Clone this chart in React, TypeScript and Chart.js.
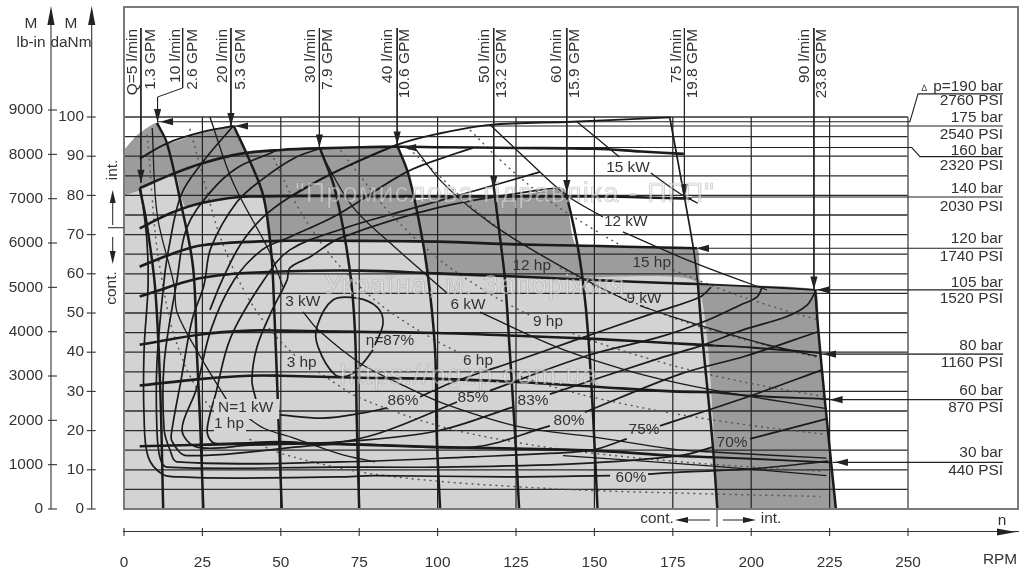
import React, { useEffect, useRef } from "react";
import { Chart, registerables } from "chart.js";

Chart.register(...registerables);

type P = number[];
type Seg = P[];

const rpmTicks = [0, 25, 50, 75, 100, 125, 150, 175, 200, 225, 250];
const daNmTicks = [0, 10, 20, 30, 40, 50, 60, 70, 80, 90, 100];
const lbInTicks = [0, 1000, 2000, 3000, 4000, 5000, 6000, 7000, 8000, 9000];
const gridTorque = [5, 10, 15, 20, 25, 30, 35, 40, 45, 50, 55, 60, 65, 70, 75, 80, 85, 90, 95, 100];
const gridRpm = [25, 50, 75, 100, 125, 150, 175, 200, 225];

const intermittentArea: Seg = [[0, 91.6], [4.2, 95.4], [10.5, 98.5], [13.7, 93.3], [25, 96.2], [35, 97.7], [38.8, 91], [48.8, 91.6], [62.5, 92], [87, 92.6], [90.6, 85.6], [92.8, 79], [100, 79.6], [125, 80], [140, 81.9], [141.2, 80.6], [144.3, 67.3], [182.7, 66.5], [183.7, 58], [188, 57.3], [220.4, 55.9], [221.4, 45.5], [223.5, 27.6], [227, 0]];
const continuousArea: Seg = [[0, 80], [5.3, 81.4], [16.5, 85.2], [18, 80.1], [19.7, 77.1], [36, 79.6], [43.6, 80.1], [45.2, 75.8], [46.5, 68.6], [94.5, 68.4], [97, 60], [145.4, 59], [182.7, 57.7], [189.4, 0]];

const flow5: Seg = [[5, 81.9], [7.2, 73], [9.9, 56.6], [11.5, 31.9], [12.5, 0]];
const flow10: Seg = [[10.5, 98.5], [13.7, 93.3], [17.9, 78.8], [22, 61.8], [23.2, 40.4], [24.2, 23.5], [25.3, 0]];
const flow20: Seg = [[35, 97.7], [40, 89], [44.5, 79.6], [47, 65], [48, 49], [49, 28.5], [50.3, 0]];
const flow30: Seg = [[62.5, 92], [67.3, 81.4], [72, 61], [73.7, 44.6], [74.2, 23.5], [75, 0]];
const flow40: Seg = [[87, 92.9], [90.6, 85.6], [94.4, 72], [97, 59], [99.2, 40.4], [99.7, 19], [100.8, 0]];
const flow50: Seg = [[117.7, 83.5], [120, 68.6], [121.5, 58.4], [123, 40.4], [124.7, 19], [126, 0]];
const flow60: Seg = [[141, 80.6], [144.3, 68.6], [146.4, 57.6], [148, 44.6], [149.6, 23.5], [151, 0]];
const flow75Upper: Seg = [[174, 100], [177.3, 85.7], [181.5, 66.8], [183, 57.5]];
const flow75: Seg = [[183, 57.5], [184.2, 45.5], [186.3, 28.5], [187.9, 14.9], [189.2, 0]];
const flow90: Seg = [[220.4, 55.9], [221.4, 45.5], [223.5, 27.6], [227, 0]];

const bar30: Seg = [[5, 16], [25, 16.4], [50, 16.8], [75, 16.4], [100, 15.8], [125, 15.4], [150, 14.9], [175, 13.6], [188, 13.2]];
const bar60: Seg = [[5, 31.5], [25, 33.2], [40, 34], [50, 34], [75, 33.5], [100, 33.2], [125, 32.4], [150, 31.2], [175, 30], [188, 29.8]];
const bar80: Seg = [[5, 41.9], [25, 44.6], [40, 45.5], [50, 45.5], [75, 45.2], [100, 44.9], [125, 44.2], [150, 43.4], [175, 42.3], [188, 41.7]];
const bar105: Seg = [[5, 54.2], [12, 56], [18, 57.6], [25, 59], [35, 60], [50, 60.6], [75, 60.8], [100, 60.1], [125, 59.3], [150, 58.4], [175, 57.6], [183, 57.4]];
const bar120: Seg = [[5, 61.8], [15, 65], [25, 67.3], [50, 68.4], [75, 68.4], [100, 68.2], [125, 67.5], [143, 67.2], [160, 66.9], [182.7, 66.5]];
const bar140: Seg = [[5, 71.6], [15, 75.5], [25, 78.1], [40, 79.7], [100, 79.7], [150, 79.7], [175, 79.3], [181, 79.2]];
const bar160: Seg = [[5, 81.9], [15, 85.3], [25, 88.2], [37, 90.6], [50, 91.6], [62, 92], [87, 92.4], [100, 92.3], [125, 92.1], [150, 91.9], [165, 91.2], [178.5, 90.6]];
const barTails: Seg[] = [
  [[188, 13.2], [200, 12.8], [225, 11.9]],
  [[188, 29.8], [200, 28.9], [225, 28]],
  [[188, 41.7], [200, 41.2], [222, 39.8]],
  [[183, 57.4], [200, 56.8], [220.4, 55.9]],
  [[5, 89.4], [13.7, 93.3], [25, 96.2], [35, 97.7]],
  [[52.9, 79.6], [66.6, 85.7], [87, 92.9], [100, 95.7], [116.7, 98], [143, 98.8], [174, 99.9]],
];

const eta60: Seg = [[5.4, 81.4], [7.3, 68.6], [7.7, 57.4], [6.4, 40.4], [6.4, 23.5], [7.7, 13.3], [12.4, 8.8], [17.9, 8.2], [34.8, 7.9], [68.9, 8.2], [79.4, 8.5], [122.1, 8.2], [155, 8.5]];
const eta60b: Seg = [[167.1, 8.9], [177.3, 9.4], [199.6, 10.2], [224.5, 12.2]];
const eta70: Seg = [[34.8, 97.7], [24.9, 88.3], [18.2, 80.1], [14.3, 66.6], [12.8, 58.4], [10.5, 37.2], [10.5, 20.2], [11.5, 13], [13.7, 10.7], [68.9, 10.7], [100.8, 10.7], [143.2, 11.5], [177.3, 13.6], [187.8, 15.8]];
const eta70b: Seg = [[199.6, 17.9], [224, 23]];
const eta75: Seg = [[48.8, 91.6], [46.8, 90.8], [36, 87], [27.6, 80.9], [20, 71.7], [16.9, 58.4], [12.8, 37.2], [12.8, 20.2], [14.7, 15], [16.9, 12], [68.9, 12], [111.3, 13.3], [143.2, 14.5], [150.8, 15.3], [160.3, 17.9]];
const eta75b: Seg = [[170.9, 21.2], [199.9, 28.9], [222.6, 35.5]];
const eta80: Seg = [[62.5, 92], [54.2, 89.5], [44.6, 84.4], [36, 78.3], [27.7, 66.6], [25.5, 57.1], [21.7, 48.2], [18.2, 32.9], [15.3, 20.2], [15.3, 17.3], [20.1, 13.6], [68.9, 16.6], [111.3, 15.8], [135.8, 21.2]];
const eta80b: Seg = [[147, 24.7], [177.3, 34.4], [198.5, 39.1], [221.3, 45.2]];
const eta83: Seg = [[111.3, 92.1], [106.2, 90.8], [90.2, 86], [67.9, 75], [52.9, 69.4], [44, 66.1], [35.1, 58.4], [27.7, 45.7], [23, 30.4], [18.5, 20.2], [23.3, 15.8], [40.2, 16.3], [68.9, 17.1], [99.8, 19.9], [124, 26]];
const eta83b: Seg = [[135.8, 29.3], [170.9, 38.5], [184.6, 41.8], [197.4, 45.7], [211.4, 49.1], [217.8, 52], [220.4, 55.4]];
const eta85: Seg = [[132.7, 86], [107.1, 80.1], [90.2, 76.3], [70.5, 71.7], [52.9, 66.1], [44.6, 58.4], [34.1, 43.9], [29.3, 29.6], [26.5, 20.2], [28.1, 17.1], [32.2, 16.7], [49.7, 17.2], [65.7, 16.8], [81.6, 19.4], [106.2, 27.3]];
const eta85b: Seg = [[116.7, 30.2], [147.6, 39.1], [170.9, 43.9], [184.6, 47.7], [196.4, 52], [201.9, 54.1], [203.4, 56.4]];
const eta86: Seg = [[139, 81.9], [132.7, 81.4], [100.8, 77], [68.9, 69.1], [59.3, 64.3], [52.9, 61.5], [52, 58.4], [46.8, 50], [42.4, 41.3], [40.8, 32.9], [42.1, 27.8]];
const eta86b: Seg = [[49.7, 24], [63.5, 23.2], [76.2, 24.5], [83.9, 25.8]];
const eta86c: Seg = [[94.4, 28.6], [104, 32.1], [114.5, 35], [124, 37.5], [143.2, 42.9], [170, 50.3], [183.7, 54.1], [187.2, 56.6]];
const eta87: Seg = [[80, 41.8], [82.6, 47.4], [80.7, 51.5], [74.3, 53.8], [66.6, 53.3], [61.5, 46.4], [61.9, 41.3], [67.3, 34.2], [72.1, 34.2], [76.2, 37.2], [79.4, 40.6]];
const etaExtra: Seg = [[87, 92.9], [66.6, 85.7], [52.9, 79.6], [44, 74.2], [37, 67.3], [31.3, 58.4], [27.4, 50.8]];

const kw1: Seg[] = [[[9, 97.2], [10.6, 75], [16, 57.1], [17, 50], [24.4, 38.8], [32.8, 27.8]], [[38.3, 24], [44.6, 20.6], [54.2, 18.1], [69, 14], [80, 12]]];
const kw3: Seg[] = [[[27.4, 100], [34.8, 83.2], [46.6, 65.3], [50.7, 56.6]], [[57.1, 50.3], [61.9, 45.7], [75.3, 37.2], [90.2, 31.1], [103.3, 26.5], [126, 21], [149.6, 18.4], [175, 15.3], [186, 14.6], [224, 13]]];
const kwExtra: Seg[] = [[[140, 13.6], [186.7, 11], [224, 8.5]]];
const kw6: Seg[] = [[[62.5, 92], [63.5, 89.8], [73, 77], [84.8, 67.9], [103, 55.1]], [[113.5, 50.2], [138, 41.3], [159, 35.7], [175, 32.4], [190, 30], [205, 28], [224, 25.6]]];
const kw9: Seg[] = [[[92.8, 92], [100.8, 83.9], [111.3, 76.3], [124, 69.1], [145.4, 59.2], [160.4, 53.1]], [[164.5, 51.9], [175, 49], [190, 45.3], [205, 41.9], [221, 39]]];
const kw12: Seg[] = [[[116.7, 98], [128, 89.5], [141, 80.1], [152.7, 74.5]], [[159.1, 70.7], [177, 64.4], [190, 60.3], [205, 55.9]]];
const kw15: Seg[] = [[[144.4, 98.8], [158, 89.8]], [[168, 85.7], [177, 80.6], [183, 78]]];

const hp1: Seg[] = [[[7.4, 95.5], [8, 90], [10, 70], [12, 59], [15, 47], [19, 37.5], [21, 34], [25, 28.5], [30, 23.7]], [[40, 17.8], [50, 14.2], [75, 9.5], [100, 7.1], [125, 5.7], [150, 4.7], [175, 4.1], [200, 3.6], [222, 3.2]]];
const hp3: Seg[] = [[[21, 97], [25, 85.3], [30, 71], [35, 61], [40, 53.3], [45, 47.4], [50, 42.7], [55, 38.8]], [[61.9, 35], [67.3, 32.1], [75, 28.4], [100, 21.3], [125, 17], [150, 14.2], [175, 12.2], [200, 10.7], [223, 9.6]]];
const hp6: Seg[] = [[[47.7, 89.5], [55, 77.6], [65, 65.6], [75, 56.9], [85, 50.2], [100, 42.7], [107, 39.8]], [[121, 35.3], [135, 31.6], [150, 28.4], [175, 24.4], [200, 21.3], [223, 19.1]]];
const hp9: Seg[] = [[[69, 91.6], [75, 85.3], [85, 75.3], [100, 64], [115, 55.7], [125, 51.2], [130, 49.2]], [[143, 44.8], [150, 42.7], [175, 36.6], [200, 32], [223, 28.7]]];
const hp12: Seg[] = [[[90.7, 92], [100, 85.4], [110, 77.7], [122, 70]], [[139, 61.5], [150, 57], [175, 48.8], [200, 42.7], [221, 38.7]]];
const hp15: Seg[] = [[[110.3, 96.7], [120, 89], [135, 79], [150, 71.2], [160, 66.5]], [[175, 61], [190, 56.2], [205, 52.1], [221, 48.3]]];

const pressureLeaders: Seg[] = [
  [[10.7, 98.8], [250.6, 98.8], [253.2, 105.9], [280.3, 105.9]],
  [[35, 97.7], [280.3, 97.7]],
  [[87, 92.2], [251.2, 92.2], [253.8, 89.9], [280.3, 89.9]],
  [[181, 79.6], [280.3, 79.6]],
  [[183, 66.5], [280.3, 66.5]],
  [[220.4, 55.9], [280.3, 55.9]],
  [[222, 39.5], [280.3, 39.5]],
  [[225, 27.9], [280.3, 27.9]],
  [[226, 11.9], [280.3, 11.9]],
];
const flowLeaders: Seg[] = [
  [[5.4, 122.7], [5.4, 83.2]],
  [[18.7, 122.7], [18.7, 107.4], [10.7, 105.1], [10.7, 98.7]],
  [[34.1, 122.7], [34.1, 97.7]],
  [[62.3, 122.7], [62.3, 92.2]],
  [[87.1, 122.7], [87.1, 93]],
  [[117.9, 122.7], [117.9, 81.6]],
  [[141.2, 122.7], [141.2, 80.6]],
  [[178.7, 122.7], [178.7, 79.6]],
  [[220, 122.7], [220, 56]],
];
const downArrows: Seg = [[5.4, 83.2], [10.7, 98.7], [34.1, 97.7], [62.3, 92.2], [87.1, 93], [117.9, 81.6], [141.2, 80.6], [178.7, 79.6], [220, 56]];
const leftArrows: Seg = [[11.5, 98.8], [35.4, 97.7], [89, 92.2], [182.4, 66.5], [220.9, 55.9], [222.9, 39.5], [225, 27.9], [226.7, 11.9]];

const flowLabels: [string, number, number][] = [
  ["Q=5 l/min", 133, 29], ["1.3 GPM", 151, 29],
  ["10 l/min", 176, 29], ["2.6 GPM", 193, 29],
  ["20 l/min", 223, 29], ["5.3 GPM", 241, 29],
  ["30 l/min", 311, 29], ["7.9 GPM", 328, 29],
  ["40 l/min", 388, 29], ["10.6 GPM", 405, 29],
  ["50 l/min", 485, 29], ["13.2 GPM", 501.5, 29],
  ["60 l/min", 557, 29], ["15.9 GPM", 575, 29],
  ["75 l/min", 677, 29], ["19.8 GPM", 693, 29],
  ["90 l/min", 805, 29], ["23.8 GPM", 821.5, 29],
];
const pressureLabels: [string, number][] = [
  ["p=190 bar", 87], ["2760 PSI", 101], ["175 bar", 118], ["2540 PSI", 135], ["160 bar", 151], ["2320 PSI", 166],
  ["140 bar", 189], ["2030 PSI", 207], ["120 bar", 239], ["1740 PSI", 257], ["105 bar", 283], ["1520 PSI", 299],
  ["80 bar", 346], ["1160 PSI", 363], ["60 bar", 391], ["870 PSI", 408], ["30 bar", 453], ["440 PSI", 471],
];
const curveLabels: [string, number, number][] = [
  ["15 kW", 628, 168], ["12 kW", 625.7, 222], ["15 hp", 651.7, 263], ["12 hp", 531.7, 266], ["9 kW", 644, 299],
  ["6 kW", 468, 305], ["9 hp", 548, 322], ["3 kW", 302.7, 302], ["6 hp", 478, 361], ["3 hp", 301.7, 363],
  ["η=87%", 390, 341], ["86%", 403, 401], ["85%", 473, 398], ["83%", 533, 401], ["80%", 569, 421],
  ["75%", 644, 430], ["70%", 732, 443], ["60%", 631, 478], ["N=1 kW", 245.7, 408], ["1 hp", 229, 424],
];
const watermarks: [string, number, number][] = [
  ["\"Промислова гідравліка - ПГП\"", 505, 195],
  ["Україна, м. Запоріжжя", 475, 287],
  ["https://pgzp.com.ua", 469, 377],
];

const FONT = "'Liberation Sans', Arial, sans-serif";
const INK = "#1b1b1b";
const TEXT = "#333333";

function App() {
  const ref = useRef<HTMLCanvasElement | null>(null);

  useEffect(() => {
    const datasets: any[] = [];
    const add = (pts: Seg, o: any) => {
      datasets.push({
        data: pts.map((p) => ({ x: p[0], y: p[1] })),
        showLine: true,
        pointRadius: 0,
        borderColor: INK,
        borderWidth: 1.6,
        tension: 0.35,
        fill: false,
        order: 1000 - datasets.length,
        ...o,
      });
    };
    add(intermittentArea, { fill: "origin", backgroundColor: "#9c9c9c", borderWidth: 0, borderColor: "transparent", tension: 0.15 });
    add(continuousArea, { fill: "origin", backgroundColor: "#d3d3d3", borderWidth: 0, borderColor: "transparent", tension: 0.15 });

    gridTorque.forEach((m) => add([[0, m], [250, m]], { borderWidth: m === 100 ? 1.8 : 1.3, borderColor: m === 100 ? "#666" : "#2a2a2a", tension: 0 }));
    gridRpm.forEach((n) => add([[n, 0], [n, 100]], { borderWidth: 1.2, borderColor: "#222", tension: 0 }));
    add([[250, 0], [250, 100]], { borderWidth: 1.6, borderColor: "#666", tension: 0 });
    pressureLeaders.forEach((s, i) => add(s, { borderWidth: i === 6 ? 1.8 : 1.1, borderColor: i === 6 ? "#555" : "#222", tension: 0 }));
    flowLeaders.forEach((s) => add(s, { borderWidth: 1, borderColor: "#222", tension: 0 }));

    [hp1, hp3, hp6, hp9, hp12, hp15].forEach((c) => c.forEach((s) => add(s, { borderWidth: 1.4, borderColor: "#555", borderDash: [2, 4] })));
    [kw1, kw3, kwExtra, kw6, kw9, kw12, kw15].forEach((c) => c.forEach((s) => add(s, { borderWidth: 1.3 })));
    [eta60, eta60b, eta70, eta70b, eta75, eta75b, eta80, eta80b, eta83, eta83b, eta85, eta85b, eta86, eta86b, eta86c, eta87, etaExtra].forEach((s) => add(s, { borderWidth: 1.7 }));
    barTails.forEach((s) => add(s, { borderWidth: 1.9 }));
    [bar30, bar60, bar80, bar105, bar120, bar140, bar160].forEach((s) => add(s, { borderWidth: 2.6 }));
    add(flow75Upper, { borderWidth: 1.7 });
    [flow5, flow10, flow20, flow30, flow40, flow50, flow60, flow75, flow90].forEach((s) => add(s, { borderWidth: 2.5 }));

    const overlay = {
      id: "overlay",
      afterDraw(chart: any) {
        const { ctx, scales, chartArea } = chart;
        const X = scales.x;
        const Y = scales.y;
        const L = scales.yLb;
        ctx.save();
        ctx.setLineDash([]);

        const arrow = (x: number, y: number, dx: number, dy: number, len = 13, hw = 3.6) => {
          ctx.beginPath();
          ctx.moveTo(x, y);
          ctx.lineTo(x - dx * len - dy * hw, y - dy * len - dx * hw);
          ctx.lineTo(x - dx * len + dy * hw, y - dy * len + dx * hw);
          ctx.closePath();
          ctx.fillStyle = "#222";
          ctx.fill();
        };
        const seg = (a: number, b: number, c: number, d: number, w = 1.1, col = "#333") => {
          ctx.beginPath();
          ctx.moveTo(a, b);
          ctx.lineTo(c, d);
          ctx.lineWidth = w;
          ctx.strokeStyle = col;
          ctx.stroke();
        };

        ctx.lineWidth = 2;
        ctx.strokeStyle = "#7a7a7a";
        ctx.strokeRect(chartArea.left, chartArea.top, chartArea.width, chartArea.height);

        const axL = X.getPixelForValue(-23.28);
        const axD = X.getPixelForValue(-10.3);
        const axY = Y.getPixelForValue(-5.87);
        seg(axL, 12, axL, Y.getPixelForValue(0));
        seg(axD, 12, axD, Y.getPixelForValue(0));
        arrow(axL, 6, 0, -1, 19, 3.6);
        arrow(axD, 6, 0, -1, 19, 3.6);
        lbInTicks.forEach((v) => seg(axL - 3, L.getPixelForValue(v), axL + 6, L.getPixelForValue(v)));
        daNmTicks.forEach((v) => seg(axD - 5, Y.getPixelForValue(v), axD + 4, Y.getPixelForValue(v)));
        rpmTicks.forEach((v) => seg(X.getPixelForValue(v), axY - 4, X.getPixelForValue(v), axY + 4));
        arrow(1016, axY, 1, 0, 19, 3.4);

        downArrows.forEach((p) => arrow(X.getPixelForValue(p[0]), Y.getPixelForValue(p[1]), 0, 1, 13, 3.6));
        leftArrows.forEach((p) => arrow(X.getPixelForValue(p[0]), Y.getPixelForValue(p[1]), -1, 0, 13, 3.6));

        seg(108, 227.7, 124, 227.7);
        seg(112.7, 225, 112.7, 200);
        arrow(112.7, 190, 0, -1, 13, 3);
        seg(112.7, 237, 112.7, 255);
        arrow(112.7, 264, 0, 1, 13, 3);
        seg(717, 509, 717, 527);
        seg(680, 520, 710, 520);
        arrow(675, 520, -1, 0, 13, 3);
        seg(723, 520, 745, 520);
        arrow(756, 520, 1, 0, 13, 3);

        ctx.fillStyle = "#d6d6d6";
        ctx.fillRect(214, 399, 65, 20);
        ctx.fillRect(214, 415, 32, 18);

        const F = `15.4px ${FONT}`;
        ctx.font = F;
        ctx.fillStyle = TEXT;
        ctx.textBaseline = "middle";
        ctx.textAlign = "center";
        curveLabels.forEach(([t, x, y]) => ctx.fillText(t, x, y));
        ctx.fillText("M", 31, 24);
        ctx.fillText("lb-in", 31, 43);
        ctx.fillText("M", 71, 24);
        ctx.fillText("daNm", 71, 43);
        ctx.fillText("cont.", 657, 519);
        ctx.fillText("int.", 771, 519);
        ctx.fillText("n", 1002, 521);
        ctx.fillText("RPM", 1000, 560);
        ctx.textAlign = "right";
        pressureLabels.forEach(([t, y]) => ctx.fillText(t, 1003, y));
        ctx.font = `9px ${FONT}`;
        ctx.fillText("∆", 927, 89);
        ctx.font = F;

        const sideText = (t: string, x: number, y: number) => {
          ctx.save();
          ctx.translate(x, y);
          ctx.rotate(-Math.PI / 2);
          ctx.fillText(t, 0, 0);
          ctx.restore();
        };
        ctx.textAlign = "right";
        flowLabels.forEach(([t, x, y]) => sideText(t, x, y));
        ctx.textAlign = "center";
        sideText("int.", 113, 170);
        sideText("cont.", 112, 288);

        ctx.font = `27px ${FONT}`;
        ctx.letterSpacing = "1.2px";
        ctx.textAlign = "center";
        watermarks.forEach(([t, x, y]) => {
          ctx.fillStyle = "rgba(235,235,235,0.55)";
          ctx.fillText(t, x, y);
          ctx.lineWidth = 0.7;
          ctx.strokeStyle = "rgba(110,110,110,0.35)";
          ctx.strokeText(t, x, y);
        });
        ctx.letterSpacing = "0px";
        ctx.restore();
      },
    };

    const tickFont = { family: "'Liberation Sans', Arial, sans-serif", size: 15.4 };
    const noPad = (s: any) => { s.paddingTop = 0; s.paddingBottom = 0; s.paddingLeft = 0; s.paddingRight = 0; };
    const chart = new Chart(ref.current as HTMLCanvasElement, {
      type: "scatter",
      data: { datasets },
      plugins: [overlay],
      options: {
        animation: false,
        responsive: false,
        devicePixelRatio: 1,
        layout: { padding: { left: 124, right: 10, top: 7, bottom: 65 } },
        plugins: { legend: { display: false }, title: { display: false }, tooltip: { enabled: false } },
        scales: {
          x: {
            type: "linear",
            min: 0,
            max: 285.07,
            position: { y: -5.87 },
            afterFit: noPad,
            afterBuildTicks: (a: any) => { a.ticks = rpmTicks.map((value) => ({ value })); },
            grid: { drawOnChartArea: false, drawTicks: false },
            border: { display: true, color: "#333", width: 1.1 },
            ticks: { color: TEXT, font: tickFont, padding: 21, autoSkip: false, maxRotation: 0, callback: (v: any) => String(v) },
          },
          y: {
            type: "linear",
            min: 0,
            max: 128.06,
            position: { x: -12.76 },
            afterFit: noPad,
            afterBuildTicks: (a: any) => { a.ticks = daNmTicks.map((value) => ({ value })); },
            grid: { drawOnChartArea: false, drawTicks: false },
            border: { display: false },
            ticks: { color: TEXT, font: tickFont, autoSkip: false, callback: (v: any) => String(v) },
          },
          yLb: {
            axis: "y",
            type: "linear",
            min: 0,
            max: 11324,
            position: { x: -25.83 },
            afterFit: noPad,
            afterBuildTicks: (a: any) => { a.ticks = lbInTicks.map((value) => ({ value })); },
            grid: { drawOnChartArea: false, drawTicks: false },
            border: { display: false },
            ticks: { color: TEXT, font: tickFont, autoSkip: false, callback: (v: any) => String(v) },
          },
        },
      },
    } as any);
    return () => chart.destroy();
  }, []);

  return (
    <div style={{ position: "fixed", left: 0, top: 0, width: 1028, height: 574, background: "#fff" }}>
      <canvas ref={ref} width={1028} height={574} style={{ display: "block", width: 1028, height: 574 }} />
    </div>
  );
}

export default App;
